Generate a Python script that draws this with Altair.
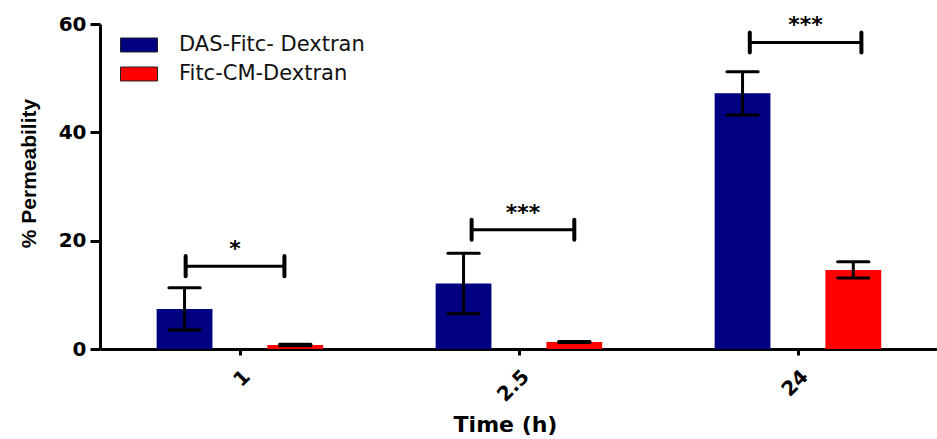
import json
import altair as alt
import pandas as pd

# ---- data ----
times = ["1", "2.5", "24"]
series = ["DAS-Fitc- Dextran", "Fitc-CM-Dextran"]
das_mean = [7.4, 12.1, 47.2]
das_sem = [3.9, 5.6, 4.0]
cm_mean = [0.75, 1.3, 14.6]
cm_sem = [0.15, 0.1, 1.5]
sig_labels = ["*", "***", "***"]
sig_height = [15.3, 22.0, 56.6]
# bracket ends, relative to the group centre (in category widths)
sig_start = [-0.193, -0.168, -0.171]
sig_end = [0.161, 0.200, 0.229]

colors = ["#000080", "#FF0000"]
offsets = [-0.197, 0.200]
half_bar = 0.10
half_cap = 0.056

rows = []
for i, t in enumerate(times):
    for s, (m, e) in enumerate([(das_mean[i], das_sem[i]), (cm_mean[i], cm_sem[i])]):
        c = i + 0.5 + offsets[s]
        rows.append(dict(time=t, series=series[s], mean=m, lo=m - e, hi=m + e,
                         xc=c, xl=c - half_bar, xr=c + half_bar,
                         cl=c - half_cap, cr=c + half_cap))
df = pd.DataFrame(rows)

brows = []
for i, t in enumerate(times):
    xs = i + 0.5 + sig_start[i]
    xe = i + 0.5 + sig_end[i]
    brows.append(dict(label=sig_labels[i], y=sig_height[i], xs=xs, xe=xe,
                      xm=(xs + xe) / 2, ylo=sig_height[i] - 1.85, yhi=sig_height[i] + 1.85))
bdf = pd.DataFrame(brows)

label_expr = "%s[floor(datum.value)]" % json.dumps(times)

xscale = alt.Scale(domain=[0, 3], nice=False, zero=False)
yscale = alt.Scale(domain=[0, 60], nice=False)

x_axis = alt.Axis(values=[0.5, 1.5, 2.5], labelExpr=label_expr, title="Time (h)",
                  labelAngle=-45, labelFont="DejaVu Sans", labelFontSize=20,
                  labelFontWeight="bold", labelPadding=11, tickSize=6,
                  titleFont="DejaVu Sans", titleFontSize=22, titleFontWeight="bold",
                  titleBaseline="alphabetic", titleY=82, titleX=405, grid=False)
y_axis = alt.Axis(values=[0, 20, 40, 60], title="% Permeability",
                  labelFont="DejaVu Sans", labelFontSize=20, labelFontWeight="bold",
                  labelPadding=4, tickSize=10,
                  titleFont="Liberation Sans", titleFontSize=21, titleFontWeight="bold",
                  titleBaseline="alphabetic", titleX=-65, titleY=149, grid=False)

base = alt.Chart(df)

bars = base.mark_bar().encode(
    x=alt.X("xl:Q", scale=xscale, axis=x_axis),
    x2="xr:Q",
    y=alt.Y("mean:Q", scale=yscale, axis=y_axis),
    y2=alt.datum(0),
    color=alt.Color("series:N", scale=alt.Scale(domain=series, range=colors),
                    sort=series,
                    legend=alt.Legend(title=None, orient="none", legendX=20, legendY=2,
                                      symbolType="M-1,-0.378L1,-0.378L1,0.378L-1,0.378Z",
                                      symbolSize=1369, symbolStrokeColor="#222222",
                                      symbolStrokeWidth=1, symbolOpacity=1,
                                      labelFont="DejaVu Sans", labelFontSize=21,
                                      labelColor="#111111", labelLimit=0,
                                      labelOffset=21, rowPadding=0, padding=0)),
)

err_v = base.mark_rule(color="black", strokeWidth=3).encode(
    x=alt.X("xc:Q", scale=xscale), y="lo:Q", y2="hi:Q")
cap_hi = base.mark_rule(color="black", strokeWidth=3, strokeCap="round").encode(
    x=alt.X("cl:Q", scale=xscale), x2="cr:Q", y="hi:Q")
cap_lo = base.mark_rule(color="black", strokeWidth=3, strokeCap="round").encode(
    x=alt.X("cl:Q", scale=xscale), x2="cr:Q", y="lo:Q")

bb = alt.Chart(bdf)
br_h = bb.mark_rule(color="black", strokeWidth=3).encode(
    x=alt.X("xs:Q", scale=xscale), x2="xe:Q", y="y:Q")
br_l = bb.mark_rule(color="black", strokeWidth=4, strokeCap="round").encode(
    x=alt.X("xs:Q", scale=xscale), y="ylo:Q", y2="yhi:Q")
br_r = bb.mark_rule(color="black", strokeWidth=4, strokeCap="round").encode(
    x=alt.X("xe:Q", scale=xscale), y="ylo:Q", y2="yhi:Q")
stars = bb.mark_text(font="DejaVu Sans", fontSize=22, fontWeight="bold",
                     baseline="alphabetic", dy=-10, color="black").encode(
    x=alt.X("xm:Q", scale=xscale), y="y:Q", text="label:N")

chart = alt.layer(bars, err_v, cap_hi, cap_lo, br_h, br_l, br_r, stars).properties(
    width=837, height=325,
    autosize=alt.AutoSizeParams(type="none"),
    padding={"left": 100, "top": 24, "right": 0, "bottom": 90},
    background="white",
).configure_view(stroke=None, clip=False).configure_axis(
    domainColor="black", domainWidth=3, tickColor="black", tickWidth=3,
    labelColor="black", titleColor="black",
)

chart.save("out.html", embed_options={"renderer": "svg", "actions": False})
